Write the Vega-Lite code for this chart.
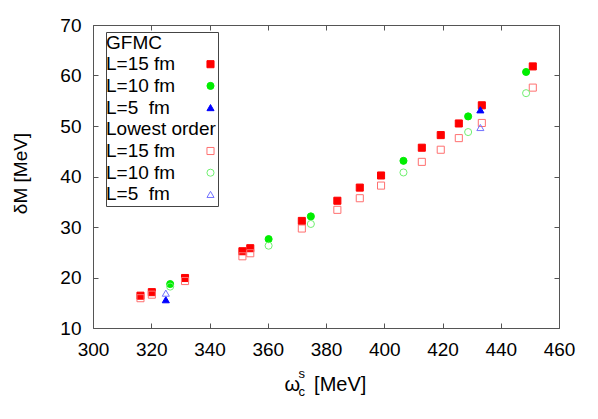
{
  "$schema": "https://vega.github.io/schema/vega-lite/v6.json",
  "autosize": {"type": "none"},
  "padding": {"left": 93, "top": 25, "right": 39, "bottom": 91},
  "width": 466,
  "height": 303,
  "background": "white",
  "config": {
    "view": {"stroke": "#555", "strokeWidth": 1},
    "font": "Liberation Sans",
    "axis": {
      "grid": false,
      "domain": false,
      "tickColor": "#555",
      "tickSize": -5,
      "labelFont": "Liberation Sans",
      "labelFontSize": 19,
      "labelColor": "black",
      "labelFlush": false,
      "labelOverlap": false,
      "titleFont": "Liberation Sans",
      "titleFontWeight": "normal",
      "titleColor": "black"
    }
  },
  "data": {
    "values": [
      {"x": 316.3, "y": 16.4, "s": "g15"},
      {"x": 320.2, "y": 17.1, "s": "g15"},
      {"x": 331.6, "y": 19.9, "s": "g15"},
      {"x": 351.3, "y": 25.2, "s": "g15"},
      {"x": 354.0, "y": 25.8, "s": "g15"},
      {"x": 371.7, "y": 31.2, "s": "g15"},
      {"x": 383.9, "y": 35.2, "s": "g15"},
      {"x": 391.6, "y": 37.8, "s": "g15"},
      {"x": 398.9, "y": 40.2, "s": "g15"},
      {"x": 412.9, "y": 45.7, "s": "g15"},
      {"x": 419.4, "y": 48.2, "s": "g15"},
      {"x": 425.6, "y": 50.5, "s": "g15"},
      {"x": 433.5, "y": 54.1, "s": "g15"},
      {"x": 451.0, "y": 61.8, "s": "g15"},
      {"x": 326.5, "y": 18.7, "s": "g10"},
      {"x": 360.3, "y": 27.6, "s": "g10"},
      {"x": 374.8, "y": 32.1, "s": "g10"},
      {"x": 406.6, "y": 43.1, "s": "g10"},
      {"x": 428.8, "y": 51.9, "s": "g10"},
      {"x": 448.7, "y": 60.7, "s": "g10"},
      {"x": 325.0, "y": 15.6, "s": "g5"},
      {"x": 433.0, "y": 53.2, "s": "g5"},
      {"x": 316.3, "y": 15.9, "s": "lo15"},
      {"x": 320.2, "y": 16.6, "s": "lo15"},
      {"x": 331.6, "y": 19.3, "s": "lo15"},
      {"x": 351.3, "y": 24.2, "s": "lo15"},
      {"x": 354.0, "y": 24.8, "s": "lo15"},
      {"x": 371.7, "y": 29.7, "s": "lo15"},
      {"x": 383.9, "y": 33.4, "s": "lo15"},
      {"x": 391.6, "y": 35.7, "s": "lo15"},
      {"x": 398.9, "y": 38.2, "s": "lo15"},
      {"x": 412.9, "y": 42.9, "s": "lo15"},
      {"x": 419.4, "y": 45.3, "s": "lo15"},
      {"x": 425.6, "y": 47.6, "s": "lo15"},
      {"x": 433.5, "y": 50.6, "s": "lo15"},
      {"x": 451.0, "y": 57.6, "s": "lo15"},
      {"x": 326.5, "y": 18.2, "s": "lo10"},
      {"x": 360.3, "y": 26.3, "s": "lo10"},
      {"x": 374.8, "y": 30.6, "s": "lo10"},
      {"x": 406.6, "y": 40.8, "s": "lo10"},
      {"x": 428.8, "y": 48.8, "s": "lo10"},
      {"x": 448.7, "y": 56.5, "s": "lo10"},
      {"x": 325.0, "y": 16.9, "s": "lo5"},
      {"x": 433.0, "y": 49.7, "s": "lo5"}
    ]
  },
  "layer": [
    {
      "mark": {"type": "point", "size": 50, "strokeWidth": 1, "opacity": 1},
      "encoding": {
        "x": {
          "field": "x", "type": "quantitative",
          "scale": {"domain": [300, 460], "nice": false, "zero": false},
          "axis": {
            "orient": "bottom", "values": [300, 320, 340, 360, 380, 400, 420, 440, 460],
            "labelPadding": 17,
            "title": "ω\u2002\u2009[MeV]",
            "titleFontSize": 20, "titleAlign": "left", "titleBaseline": "alphabetic",
            "titleX": 191, "titleY": 62
          }
        },
        "y": {
          "field": "y", "type": "quantitative",
          "scale": {"domain": [10, 70], "nice": false, "zero": false},
          "axis": {
            "orient": "left", "values": [10, 20, 30, 40, 50, 60, 70],
            "labelPadding": 17,
            "title": "δM [MeV]",
            "titleFontSize": 19, "titleAngle": -90, "titleAlign": "center", "titleBaseline": "alphabetic",
            "titleX": -67, "titleY": 148
          }
        },
        "fill": {
          "field": "s", "type": "nominal",
          "scale": {
            "domain": ["GFMC", "g15", "g10", "g5", "LO", "lo15", "lo10", "lo5"],
            "range": ["transparent", "#ff0000", "#00ee00", "#0000ff", "transparent", "transparent", "transparent", "transparent"]
          },
          "legend": {
            "title": null,
            "orient": "none", "legendX": 13, "legendY": 7,
            "padding": 1,
            "strokeColor": "#444", "fillColor": "white",
            "labelFont": "Liberation Sans", "labelFontSize": 19, "labelColor": "black",
            "labelLimit": 300,
            "symbolOffset": 94, "labelOffset": -114,
            "rowPadding": 1.7,
            "symbolSize": 50, "symbolStrokeWidth": 1,
            "labelExpr": "datum.value == 'GFMC' ? 'GFMC' : datum.value == 'LO' ? 'Lowest order' : (datum.value == 'g15' || datum.value == 'lo15') ? 'L=15 fm' : (datum.value == 'g10' || datum.value == 'lo10') ? 'L=10 fm' : 'L=5\u00a0\u00a0fm'"
          }
        },
        "stroke": {
          "field": "s", "type": "nominal",
          "scale": {
            "domain": ["GFMC", "g15", "g10", "g5", "LO", "lo15", "lo10", "lo5"],
            "range": ["transparent", "#ff0000", "#00ee00", "#0000ff", "transparent", "#ff7070", "#70f070", "#7070ff"]
          }
        },
        "shape": {
          "field": "s", "type": "nominal",
          "scale": {
            "domain": ["GFMC", "g15", "g10", "g5", "LO", "lo15", "lo10", "lo5"],
            "range": ["square", "square", "circle", "triangle-up", "square", "square", "circle", "triangle-up"]
          }
        }
      }
    },
    {
      "mark": {"type": "point", "opacity": 0},
      "encoding": {
        "x": {
          "field": "x", "type": "quantitative",
          "scale": {"domain": [300, 460], "nice": false, "zero": false},
          "axis": {
            "orient": "top", "values": [300, 320, 340, 360, 380, 400, 420, 440, 460],
            "labels": false,
            "title": "s", "titleFontSize": 13, "titleAlign": "left", "titleBaseline": "alphabetic",
            "titleX": 205, "titleY": 352
          }
        },
        "y": {
          "field": "y", "type": "quantitative",
          "scale": {"domain": [10, 70], "nice": false, "zero": false},
          "axis": {
            "orient": "right", "values": [10, 20, 30, 40, 50, 60, 70],
            "labels": false,
            "title": "c", "titleFontSize": 13, "titleAngle": 0, "titleAlign": "left", "titleBaseline": "alphabetic",
            "titleX": -261, "titleY": 370
          }
        }
      }
    }
  ],
  "resolve": {"scale": {"x": "independent", "y": "independent"}}
}
